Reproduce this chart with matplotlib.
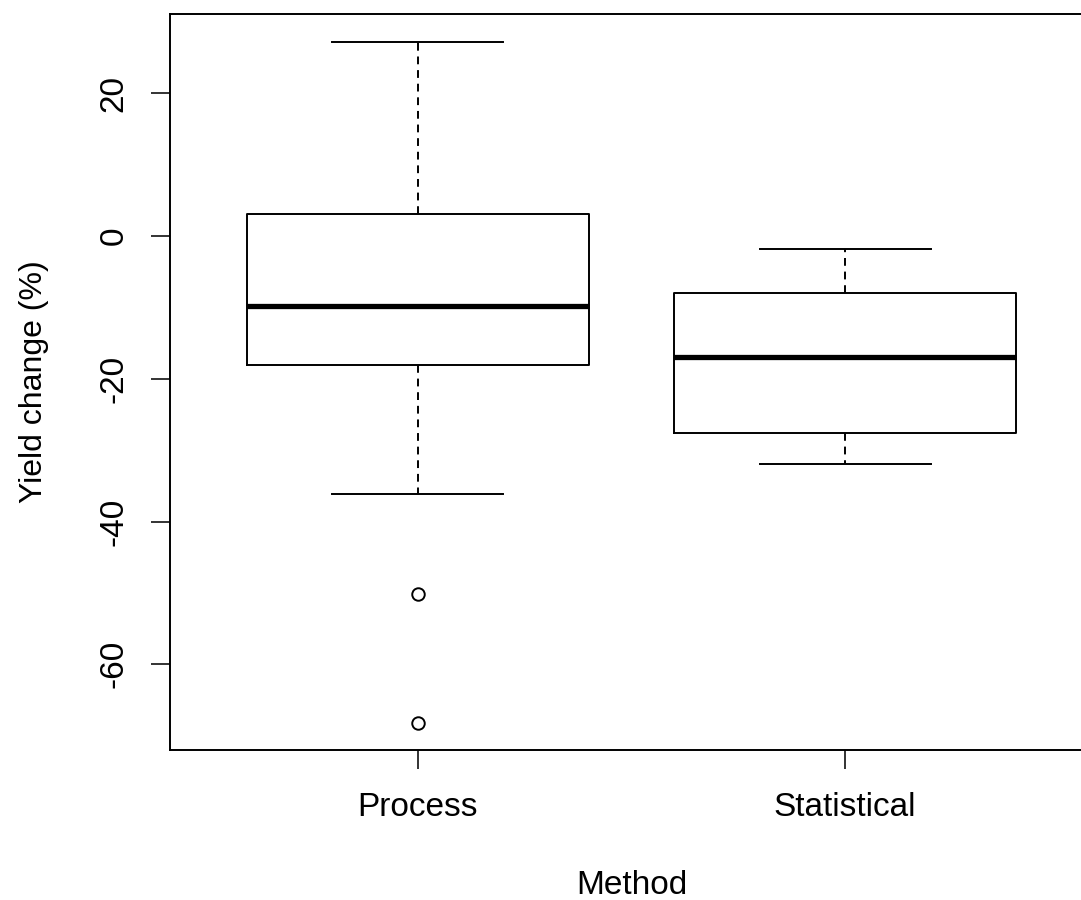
import matplotlib
matplotlib.use("Agg")
import matplotlib.pyplot as plt

plt.rcParams['font.family'] = ['Liberation Sans', 'DejaVu Sans']

categories = ["Process", "Statistical"]
whislo = [-36.1, -31.9]
q1 = [-18.1, -27.6]
med = [-9.8, -17.0]
q3 = [3.1, -8.0]
whishi = [27.2, -1.8]
fliers = [[-50.2, -68.2], []]
yticks = [-60, -40, -20, 0, 20]

W, H = 1081, 900
fig = plt.figure(figsize=(W / 100, H / 100), dpi=100)
left, right, top, bottom = 170, 1093, 14, 750
ax = fig.add_axes([left / W, 1 - bottom / H, (right - left) / W, (bottom - top) / H])

stats = []
for i, c in enumerate(categories):
    stats.append(dict(label=c, whislo=whislo[i], q1=q1[i], med=med[i], q3=q3[i],
                      whishi=whishi[i], fliers=fliers[i]))

lw = 1.4
ax.bxp(stats, positions=[1, 2], widths=0.8, showfliers=True,
       boxprops=dict(color='black', linewidth=lw),
       whiskerprops=dict(color='black', linewidth=lw, linestyle=(0, (4, 3))),
       capprops=dict(color='black', linewidth=lw),
       medianprops=dict(color='black', linewidth=3.8, solid_capstyle='butt'),
       flierprops=dict(marker='o', markerfacecolor='white', markeredgecolor='black',
                       markersize=9, markeredgewidth=1.4))
ax.set_xlim(0.42, 2.58)
ax.set_ylim(-72.0, 31.1)
ax.set_yticks(yticks)
ax.set_yticklabels([str(t) for t in yticks], rotation=90, va='center', fontsize=24)
ax.set_xticks([1, 2])
ax.set_xticklabels(categories, fontsize=24)
ax.tick_params(axis='both', length=14, width=1.4, color='#333333')
ax.tick_params(axis='y', pad=15)
ax.tick_params(axis='x', pad=16)
for s in ax.spines.values():
    s.set_linewidth(1.4)
ax.set_xlabel("Method", fontsize=24, labelpad=34)
ax.set_ylabel("Yield change (%)", fontsize=23, labelpad=36)
fig.savefig("out.png", dpi=100)
